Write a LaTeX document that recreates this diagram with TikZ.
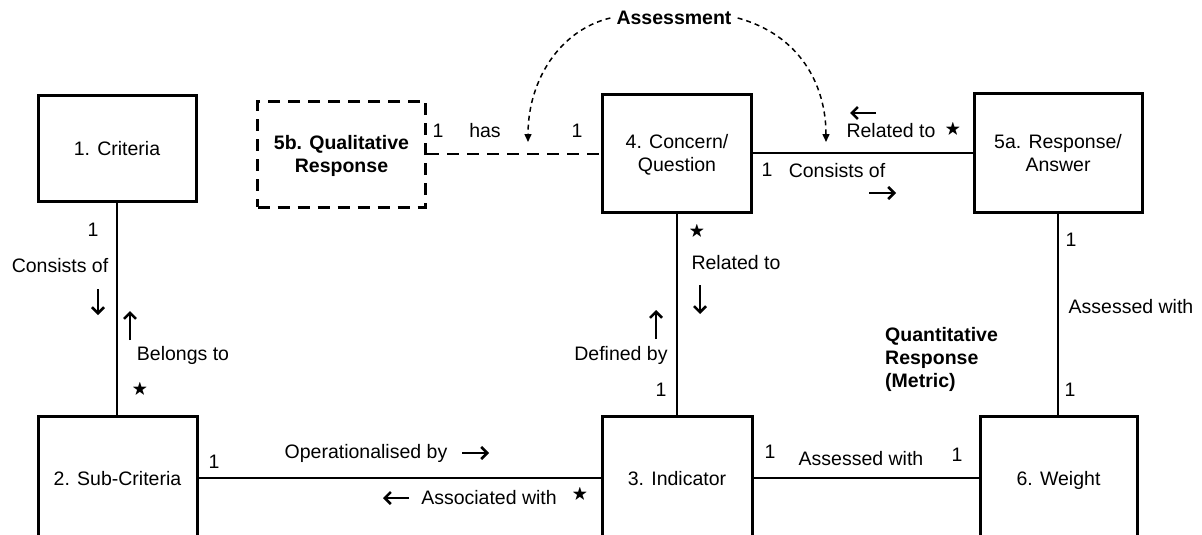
\documentclass[tikz,border=0pt]{standalone}
\usepackage{amsmath}
\usepackage{amssymb}
\usepackage{fontspec}
\setmainfont{Liberation Sans}
\usetikzlibrary{arrows.meta,positioning}
\newcommand{\mstar}{{\fontsize{16}{16}\selectfont$\bigstar$}}

\begin{document}
\begin{tikzpicture}[x=1pt,y=-1pt,
        every node/.style={inner sep=0pt,font=\fontsize{19.5}{23}\selectfont},
        box/.style={draw,line width=3pt,align=center,text depth=0pt},
        qbox/.style={box,dash pattern=on 12pt off 8pt,font=\fontsize{19.5}{23}\selectfont\bfseries},
        conn/.style={line width=2.5pt},
        dirarr/.style={line width=2.5pt,-{Straight Barb[length=6pt,width=12pt,line width=2.5pt]}},
        assess/.style={line width=1.5pt,dash pattern=on 5pt off 4pt,-{Triangle[length=8pt,width=7pt]}},
        bold/.style={font=\fontsize{19.5}{23}\selectfont\bfseries}]
        \useasboundingbox (0,0) rectangle (1202,535);
        \clip (0,0) rectangle (1202,535);
        % the classes
        \node [box,minimum width=158pt,minimum height=106pt] (crit) at (117,148) {1. Criteria};
        \node [qbox,minimum width=168pt,minimum height=106pt] (qual) at (341.5,154) {5b. Qualitative\\Response};
        \node [box,minimum width=149pt,minimum height=118pt] (con) at (677,153) {4. Concern/\\Question};
        \node [box,minimum width=168pt,minimum height=119pt] (resp) at (1058,152.5) {5a. Response/\\Answer};
        \node [box,minimum width=159pt,minimum height=124pt] (sub) at (117.5,478) {2. Sub-Criteria};
        \node [box,minimum width=150pt,minimum height=124pt] (ind) at (677,478) {3. Indicator};
        \node [box,minimum width=157pt,minimum height=124pt] (wei) at (1058.5,478) {6. Weight};
        % associations
        \draw [conn] (crit.south) -- (crit.south |- sub.north);
        \draw [conn,dash pattern=on 12pt off 8pt] (qual.east) -- (qual.east -| con.west);
        \draw [conn] (con.east) -- (con.east -| resp.west);
        \draw [conn] (con.south) -- (con.south |- ind.north);
        \draw [conn] (resp.south) -- (resp.south |- wei.north);
        \draw [conn] (sub.east) -- (sub.east -| ind.west);
        \draw [conn] (ind.east) -- (ind.east -| wei.west);
        % assessment
        \node [bold] (ass) at (674,18) {Assessment};
        \coordinate (asl) at (528,142);
        \coordinate (asr) at (826,142);
        \draw [assess] ([xshift=-6pt]ass.west) .. controls (560,30) and (528,80) .. (asl);
        \draw [assess] ([xshift=6pt]ass.east) .. controls (800,35) and (826,85) .. (asr);
        % criteria / sub-criteria
        \node (m1) at (93,230) {1};
        \node (l1) at (60,266) {Consists of};
        \draw [dirarr] (98,289) -- (98,315);
        \draw [dirarr] (130,340) -- (130,311);
        \node (l2) at (183,355) {Belongs to};
        \node (m2) at (140,390) {\mstar};
        % qualitative / concern
        \node (m3) at (438,131) {1};
        \node (l3) at (485,131) {has};
        \node (m4) at (577,131) {1};
        % concern / response
        \draw [dirarr] (876,113) -- (850,113);
        \node (l4) at (891,131) {Related to};
        \node (m5) at (953,130) {\mstar};
        \node (m6) at (767,170) {1};
        \node (l5) at (837,171) {Consists of};
        \draw [dirarr] (869,193) -- (896,193);
        % concern / indicator
        \node (m7) at (697,232) {\mstar};
        \node (l6) at (736,263) {Related to};
        \draw [dirarr] (700,285) -- (700,314);
        \draw [dirarr] (656,339) -- (656,310);
        \node (l7) at (621,355) {Defined by};
        \node (m8) at (661,390) {1};
        % response / weight
        \node (m9) at (1071,240) {1};
        \node (l8) at (1131,307) {Assessed with};
        \node (m10) at (1070,390) {1};
        \node [bold,align=left,anchor=west] (quan) at (885,359) {Quantitative\\Response\\(Metric)};
        % sub-criteria / indicator
        \node (m11) at (214,462) {1};
        \node (l9) at (366,453) {Operationalised by};
        \draw [dirarr] (462,453) -- (489,453);
        \draw [dirarr] (409,498) -- (383,498);
        \node (l10) at (489,498) {Associated with};
        \node (m12) at (580,495) {\mstar};
        % indicator / weight
        \node (m13) at (770,452) {1};
        \node (l11) at (861,459) {Assessed with};
        \node (m14) at (957,455) {1};
\end{tikzpicture}
\end{document}
